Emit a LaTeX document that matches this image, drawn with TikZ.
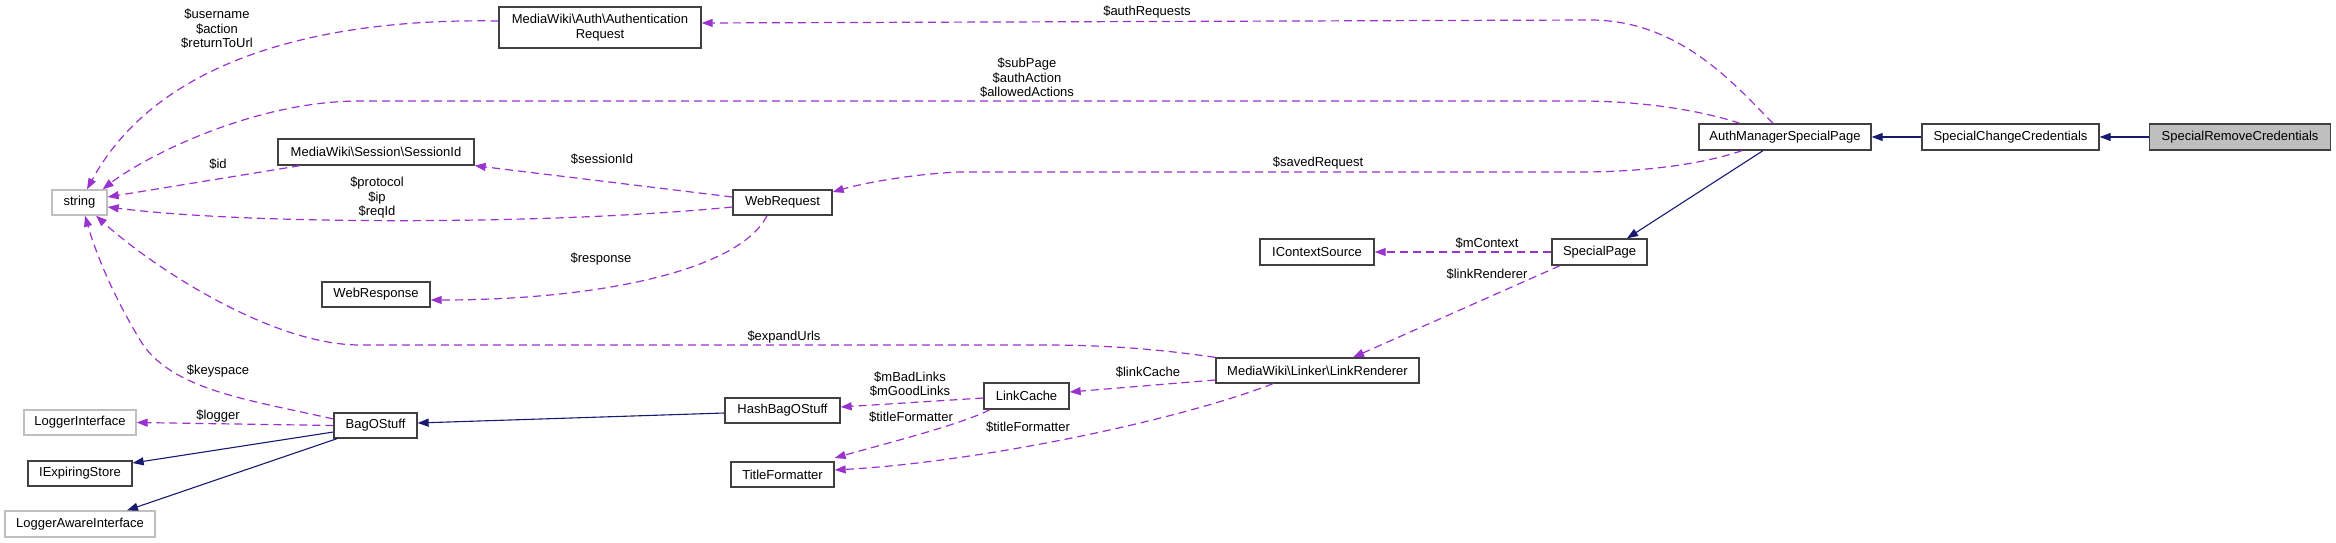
\documentclass[tikz,border=0pt]{standalone}
\usepackage{fontspec}
\setmainfont{Liberation Sans}
\usetikzlibrary{arrows.meta}
\definecolor{UsageViolet}{RGB}{154,50,205}
\definecolor{InheritNavy}{RGB}{25,25,112}
\definecolor{BoxEdge}{RGB}{64,64,64}
\definecolor{ExtEdge}{RGB}{191,191,191}
\definecolor{FocusFill}{RGB}{191,191,191}
\tikzset{
  classbox/.style={draw=BoxEdge,fill=white,line width=1.3pt,inner sep=0pt,
    minimum height=26pt,align=center,font=\fontsize{13}{14.5}\selectfont},
  extbox/.style={classbox,draw=ExtEdge},
  focusbox/.style={classbox,fill=FocusFill},
  usage/.style={-{Triangle[length=11pt,width=8pt]},UsageViolet,
    line width=1.2pt,dash pattern=on 8pt off 5pt},
  inherit/.style={-{Triangle[length=11pt,width=8pt]},InheritNavy,line width=1.1pt},
  edgelabel/.style={align=center,inner sep=0pt,font=\fontsize{13}{14.5}\selectfont}
}
\newcommand{\bs}{\textbackslash}

\begin{document}
\begin{tikzpicture}[x=1pt,y=-1pt]
      \useasboundingbox (0,0) rectangle (2336,543);
      \node[focusbox,minimum width=181pt] (removecred) at (2240,137) {SpecialRemoveCredentials};
      \node[classbox,minimum width=177pt] (changecred) at (2010.5,137) {SpecialChangeCredentials};
      \node[classbox,minimum width=172pt] (authpage) at (1785,137) {AuthManagerSpecialPage};
      \node[classbox,minimum width=202pt,minimum height=41pt] (authreq) at (600,27.5)
        {MediaWiki\bs Auth\bs Authentication\\Request};
      \node[extbox,minimum width=55pt,minimum height=25pt] (string) at (79.5,202.5) {string};
      \node[classbox,minimum width=196pt] (sessionid) at (376,152) {MediaWiki\bs Session\bs SessionId};
      \node[classbox,minimum width=99pt,minimum height=25pt] (webreq) at (782.5,202.5) {WebRequest};
      \node[classbox,minimum width=108pt,minimum height=25pt] (webresp) at (376,294.5) {WebResponse};
      \node[classbox,minimum width=114pt] (contextsrc) at (1317,252) {IContextSource};
      \node[classbox,minimum width=95pt] (specialpage) at (1599.5,252) {SpecialPage};
      \node[classbox,minimum width=203pt,minimum height=25pt] (linkrend) at (1317.5,370.5) {MediaWiki\bs Linker\bs LinkRenderer};
      \node[classbox,minimum width=85pt] (linkcache) at (1026.5,396) {LinkCache};
      \node[classbox,minimum width=115pt,minimum height=25pt] (hashbag) at (782.5,410.5) {HashBagOStuff};
      \node[classbox,minimum width=103pt,minimum height=25pt] (titlefmt) at (782.5,474.5) {TitleFormatter};
      \node[classbox,minimum width=83pt,minimum height=25pt] (bag) at (375.5,425.5) {BagOStuff};
      \node[extbox,minimum width=112pt,minimum height=25pt] (loggerif) at (80,422.5) {LoggerInterface};
      \node[classbox,minimum width=104pt,minimum height=25pt] (expiring) at (80,473.5) {IExpiringStore};
      \node[extbox,minimum width=150pt] (loggeraware) at (80,524) {LoggerAwareInterface};

      \draw[inherit] (removecred.west) -- (changecred.east);
      \draw[inherit] (changecred.west) -- (authpage.east);
      \draw[inherit] ([xshift=-22pt]authpage.south) -- ([xshift=27.5pt]specialpage.north);
      \draw[inherit] ([yshift=-2.5pt]hashbag.west) -- ([yshift=2.5pt]bag.east);
      \draw[inherit] ([yshift=-6.5pt]bag.west) -- ([yshift=10.5pt]expiring.east);
      \draw[inherit] ([xshift=-38.5pt]bag.south) -- ([xshift=47pt]loggeraware.north);

      \draw[usage] ([xshift=-12pt]authpage.north)
        .. controls (1735,85) and (1680,20) .. (1590,20) -- ([yshift=4.5pt]authreq.east);
      \draw[usage] ([xshift=-45pt]authpage.north)
        .. controls (1700,110) and (1640,101) .. (1580,101) -- (360,101)
        .. controls (250,101) and (140,160) .. ([xshift=-5pt]string.north east);
      \draw[usage] ([xshift=-43pt]authpage.south)
        .. controls (1700,165) and (1640,172) .. (1580,172) -- (960,172)
        .. controls (910,174) and (860,184) .. ([yshift=10.5pt]webreq.east);
      \draw[usage] ([yshift=6.5pt]authreq.west)
        .. controls (330,18) and (160,55) .. ([xshift=7.5pt]string.north);
      \draw[usage] ([xshift=-76pt]sessionid.south) -- ([yshift=5.5pt]string.east);
      \draw[usage] ([yshift=5.5pt]webreq.west) -- (sessionid.south east);
      \draw[usage] ([yshift=-4.5pt]webreq.west)
        .. controls (550,225) and (250,225) .. ([yshift=-4.5pt]string.east);
      \draw[usage] ([xshift=-15.5pt]webreq.south)
        .. controls (740,270) and (600,300) .. ([yshift=-5.5pt]webresp.east);
      \draw[usage] (linkrend.north west)
        .. controls (1150,348) and (1100,345) .. (1040,345) -- (360,345)
        .. controls (270,345) and (150,265) .. ([xshift=16.5pt]string.south);
      \draw[usage] ([yshift=6.5pt]bag.west)
        .. controls (250,400) and (170,390) .. (140,340)
        .. controls (110,290) and (95,250) .. ([xshift=5.5pt]string.south);
      \draw[usage] (bag.west) -- (loggerif.east);
      \draw[usage] ([yshift=-2pt]linkcache.west) -- ([yshift=3.5pt]hashbag.east);
      \draw[usage] ([xshift=-36.5pt]linkcache.south)
        .. controls (960,425) and (880,445) .. ([yshift=16.5pt]titlefmt.east);
      \draw[usage] ([xshift=-44.5pt]linkrend.south)
        .. controls (1180,420) and (980,462) .. ([yshift=4.5pt]titlefmt.east);
      \draw[usage] ([yshift=-9.5pt]linkrend.west) -- ([yshift=4pt]linkcache.east);
      \draw[usage] (specialpage.west) -- (contextsrc.east);
      \draw[usage] ([xshift=-39.5pt]specialpage.south) -- ([xshift=35.5pt]linkrend.north);

      \node[edgelabel] (lblauthreqs) at (1147,12) {\$authRequests};
      \node[edgelabel] (lblsubpage) at (1027,78) {\$subPage\\\$authAction\\\$allowedActions};
      \node[edgelabel] (lblsaved) at (1318,163) {\$savedRequest};
      \node[edgelabel] (lbluser) at (217,29) {\$username\\\$action\\\$returnToUrl};
      \node[edgelabel] (lblid) at (218,164) {\$id};
      \node[edgelabel] (lblsessid) at (602,159) {\$sessionId};
      \node[edgelabel] (lblproto) at (377,198) {\$protocol\\\$ip\\\$reqId};
      \node[edgelabel] (lblresp) at (601,259) {\$response};
      \node[edgelabel] (lblexpand) at (784,337) {\$expandUrls};
      \node[edgelabel] (lblkeyspace) at (218,371) {\$keyspace};
      \node[edgelabel] (lbllogger) at (218,416) {\$logger};
      \node[edgelabel] (lbllinks) at (910,384) {\$mBadLinks\\\$mGoodLinks};
      \node[edgelabel] (lbltitlea) at (911,417) {\$titleFormatter};
      \node[edgelabel] (lbltitleb) at (1028,427) {\$titleFormatter};
      \node[edgelabel] (lbllinkcache) at (1148,372) {\$linkCache};
      \node[edgelabel] (lblcontext) at (1487,243) {\$mContext};
      \node[edgelabel] (lbllinkrend) at (1487,274) {\$linkRenderer};
    \end{tikzpicture}
\end{document}
